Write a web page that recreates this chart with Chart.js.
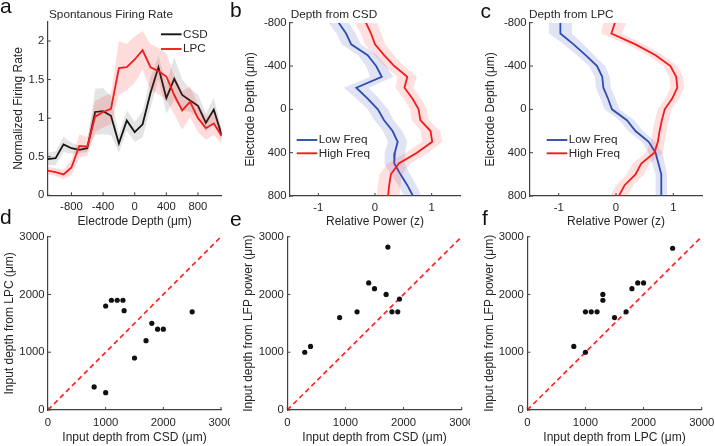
<!DOCTYPE html>
<html>
<head>
<meta charset="utf-8">
<script src="https://cdn.jsdelivr.net/npm/chart.js@4.4.1/dist/chart.umd.min.js"></script>
<style>
  body { margin: 0; background: #fff; }
  #fig { position: relative; width: 715px; height: 446px; overflow: hidden; font-family: "Liberation Sans", Arial, sans-serif; }
  #fig canvas { position: absolute; }
  .letter { position: absolute; font-size: 21px; line-height: 21px; color: #111; }
</style>
</head>
<body>
<div id="fig">
  <canvas id="ca"></canvas>
  <canvas id="cb"></canvas>
  <canvas id="cc"></canvas>
  <canvas id="cd"></canvas>
  <canvas id="ce"></canvas>
  <canvas id="cf"></canvas>
  <div class="letter" style="left:0px;top:-4.8px">a</div>
  <div class="letter" style="left:230px;top:-1.1px">b</div>
  <div class="letter" style="left:480.5px;top:-0.5px">c</div>
  <div class="letter" style="left:0px;top:206px">d</div>
  <div class="letter" style="left:230px;top:208px">e</div>
  <div class="letter" style="left:482px;top:207px">f</div>
</div>
<script>
// ---- panel a: spontaneous firing rate vs electrode depth
const depthA = [-1100, -1000, -900, -800, -700, -600, -500, -400, -300, -200, -100, 0,
                100, 200, 300, 400, 500, 600, 700, 800, 900, 1000, 1100];
const csdRate = [0.47, 0.48, 0.66, 0.61, 0.59, 0.61, 1.08, 1.09, 1.03, 0.67, 0.97, 0.82,
                 0.92, 1.33, 1.66, 1.26, 1.51, 1.30, 1.23, 1.16, 0.94, 1.11, 0.78];
const csdRateErr = [0.08, 0.09, 0.10, 0.07, 0.05, 0.05, 0.30, 0.30, 0.25, 0.12, 0.13, 0.13,
                    0.17, 0.20, 0.15, 0.20, 0.28, 0.20, 0.15, 0.15, 0.12, 0.15, 0.08];
const lpcRate = [0.32, 0.30, 0.27, 0.36, 0.64, 0.63, 1.02, 1.08, 1.12, 1.65, 1.66, 1.76,
                 1.88, 1.66, 1.61, 1.54, 1.30, 1.10, 1.21, 1.00, 0.87, 0.93, 0.77];
const lpcRateErr = [0.05, 0.05, 0.06, 0.10, 0.15, 0.12, 0.20, 0.20, 0.20, 0.35, 0.30, 0.30,
                    0.25, 0.30, 0.30, 0.30, 0.25, 0.25, 0.20, 0.18, 0.15, 0.15, 0.10];

// ---- panels b, c: relative power vs depth
const depthBC = [-800, -700, -600, -500, -400, -300, -200, -100, 0, 100, 200, 300, 400, 500, 600, 700, 800];
const csdLow = [-0.64, -0.51, -0.42, -0.13, 0.02, 0.12, -0.33, -0.13, 0.05, 0.16, 0.31, 0.40, 0.35, 0.34, 0.45, 0.57, 0.67];
const csdLowErr = [0.18, 0.17, 0.17, 0.17, 0.18, 0.20, 0.22, 0.20, 0.18, 0.17, 0.17, 0.17, 0.18, 0.18, 0.17, 0.16, 0.15];
const csdHigh = [-0.16, -0.07, 0.00, 0.16, 0.34, 0.57, 0.52, 0.66, 0.77, 0.80, 0.98, 1.01, 0.74, 0.42, 0.28, 0.25, 0.23];
const csdHighErr = [0.20, 0.18, 0.18, 0.17, 0.17, 0.17, 0.16, 0.15, 0.15, 0.15, 0.17, 0.18, 0.20, 0.20, 0.20, 0.20, 0.20];
const lpcLow = [-0.97, -0.97, -0.74, -0.53, -0.33, -0.24, -0.22, -0.14, -0.07, 0.19, 0.34, 0.57, 0.69, 0.74, 0.79, 0.79, 0.79];
const lpcLowErr = [0.20, 0.20, 0.17, 0.15, 0.14, 0.13, 0.13, 0.13, 0.13, 0.13, 0.13, 0.12, 0.12, 0.11, 0.10, 0.10, 0.10];
const lpcHigh = [-0.02, -0.08, 0.34, 0.69, 0.95, 1.05, 1.07, 0.98, 0.85, 0.80, 0.76, 0.73, 0.67, 0.44, 0.34, 0.15, 0.05];
const lpcHighErr = [0.20, 0.18, 0.15, 0.13, 0.12, 0.12, 0.12, 0.12, 0.12, 0.12, 0.12, 0.12, 0.15, 0.15, 0.15, 0.15, 0.15];

// ---- panels d, e, f: input depth scatter (um)
const csdDepthD = [800, 1000, 1000, 1100, 1200, 1300, 1320, 1500, 1700, 1800, 1900, 2000, 2500];
const lpcDepthD = [400, 300, 1800, 1900, 1900, 1900, 1720, 900, 1200, 1500, 1400, 1400, 1700];
const csdDepthE = [300, 400, 900, 1200, 1400, 1500, 1700, 1730, 1800, 1900, 1930];
const lfpDepthE = [1000, 1100, 1600, 1700, 2200, 2100, 2000, 2820, 1700, 1700, 1920];
const lpcDepthF = [800, 1000, 1000, 1100, 1200, 1300, 1300, 1500, 1700, 1800, 1900, 2000, 2500];
const lfpDepthF = [1100, 1000, 1700, 1700, 1700, 2000, 1900, 1600, 1700, 2100, 2200, 2200, 2800];
const unityLine = [0, 3000];

// ---- tick labels
const aXTicks = [-800, -400, 0, 400, 800];
const aYTicks = [0, 0.5, 1, 1.5, 2];
const powerTicks = [-1, 0, 1];
const depthTicks = [-800, -400, 0, 400, 800];
const scatterTicks = [0, 1000, 2000, 3000];

// ---- styling / layout
const FONT = '"Liberation Sans", Arial, Helvetica, sans-serif';
const TEXT = '#262626';
const AXIS = '#404040';
const RED = '#f21c1c';
const BLUE = '#2f4db0';
const BLACK = '#141414';
const TICK_LEN = 3;

// canvas box (x, y, w, h) and plot box (l, t, r, b) in page pixels
const panels = {
  a: { x: 0, y: 0, w: 230, h: 232, l: 47.7, t: 21.7, r: 221.7, b: 195.3 },
  b: { x: 230, y: 0, w: 240, h: 232, l: 290, t: 22.7, r: 460, b: 196 },
  c: { x: 470, y: 0, w: 245, h: 232, l: 530, t: 22.7, r: 702, b: 196 },
  d: { x: 0, y: 226, w: 230, h: 220, l: 48, t: 236.7, r: 221, b: 410 },
  e: { x: 230, y: 226, w: 240, h: 220, l: 287.3, t: 236.7, r: 461.7, b: 410 },
  f: { x: 470, y: 226, w: 245, h: 220, l: 527.3, t: 236.7, r: 701.7, b: 410 }
};

// inward ticks, left-aligned panel title and a simple line legend
const figExtras = {
  id: 'figExtras',
  afterDraw(chart, args, opts) {
    const ctx = chart.ctx;
    const area = chart.chartArea;
    ctx.save();
    ctx.strokeStyle = AXIS;
    ctx.lineWidth = 1;
    Object.values(chart.scales).forEach((s) => {
      s.ticks.forEach((t) => {
        const p = s.getPixelForValue(t.value);
        ctx.beginPath();
        if (s.isHorizontal()) {
          ctx.moveTo(p, area.bottom);
          ctx.lineTo(p, area.bottom - TICK_LEN);
        } else {
          ctx.moveTo(area.left, p);
          ctx.lineTo(area.left + TICK_LEN, p);
        }
        ctx.stroke();
      });
    });
    ctx.fillStyle = TEXT;
    if (opts.title) {
      ctx.font = '11.8px ' + FONT;
      ctx.textBaseline = 'alphabetic';
      ctx.textAlign = 'left';
      ctx.fillText(opts.title, opts.titleX, opts.titleY);
    }
    if (opts.legend) {
      ctx.font = '11.7px ' + FONT;
      ctx.textBaseline = 'middle';
      opts.legend.forEach((item, i) => {
        const y = opts.legendY + i * opts.legendDy;
        ctx.strokeStyle = item.color;
        ctx.lineWidth = 1.9;
        ctx.beginPath();
        ctx.moveTo(opts.legendX, y);
        ctx.lineTo(opts.legendX + 20.6, y);
        ctx.stroke();
        ctx.fillStyle = TEXT;
        ctx.fillText(item.text, opts.legendX + 22, y);
      });
    }
    ctx.restore();
  }
};

function scaleCfg(o) {
  const left = o.pos === 'left';
  return {
    type: 'linear',
    position: o.pos,
    min: o.min,
    max: o.max,
    reverse: !!o.reverse,
    grid: { display: false, drawTicks: false },
    border: { display: true, color: AXIS, width: 1.2 },
    ticks: {
      color: TEXT,
      font: { family: FONT, size: 11.3 },
      padding: left ? 3.5 : o.tickPad,
      maxRotation: 0,
      autoSkip: false,
      callback: (v) => String(v)
    },
    afterBuildTicks: (s) => { s.ticks = o.ticks.map((v) => ({ value: v })); },
    title: {
      display: true,
      text: o.title,
      color: TEXT,
      font: { family: FONT, size: 12 },
      padding: left ? { top: o.titlePad, bottom: 0 } : { top: 0, bottom: o.titlePad }
    },
    afterFit: (s) => {
      if (left) {
        s.width = o.size;
        s.paddingTop = 0;
        s.paddingBottom = 0;
      } else {
        s.height = o.size;
        s.paddingLeft = 0;
        s.paddingRight = 0;
      }
    }
  };
}

function setupCanvas(id, p) {
  const cv = document.getElementById(id);
  cv.width = p.w;
  cv.height = p.h;
  cv.style.left = p.x + 'px';
  cv.style.top = p.y + 'px';
  cv.style.width = p.w + 'px';
  cv.style.height = p.h + 'px';
  return cv;
}

function baseOptions(p, x, y, extras) {
  return {
    responsive: false,
    animation: false,
    devicePixelRatio: 1,
    layout: { padding: { left: 0, top: p.t - p.y, right: p.x + p.w - p.r, bottom: 0 } },
    scales: {
      x: scaleCfg(Object.assign({ pos: 'bottom', size: p.y + p.h - p.b }, x)),
      y: scaleCfg(Object.assign({ pos: 'left', size: p.l - p.x }, y))
    },
    elements: { point: { radius: 0 }, line: { tension: 0 } },
    plugins: { legend: { display: false }, tooltip: { enabled: false }, figExtras: extras }
  };
}

const pts = (xs, ys) => xs.map((x, i) => ({ x: x, y: ys[i] }));
const shift = (vals, err, sign) => vals.map((v, i) => v + sign * err[i]);

// mean line with a shaded band; vertical=true means depth runs along y
function withBand(axisVals, mean, err, color, shade, baseOrder, vertical) {
  const mk = (vals) => vertical ? pts(vals, axisVals) : pts(axisVals, vals);
  return [
    { data: mk(shift(mean, err, -1)), borderWidth: 0, pointRadius: 0, fill: false, order: baseOrder + 2 },
    { data: mk(shift(mean, err, 1)), borderWidth: 0, pointRadius: 0, fill: '-1', backgroundColor: shade, order: baseOrder + 1 },
    { data: mk(mean), borderColor: color, borderWidth: 1.8, pointRadius: 0, fill: false, order: baseOrder }
  ];
}

// panel a
const pa = panels.a;
new Chart(setupCanvas('ca', pa), {
  type: 'line',
  data: {
    datasets: [
      ...withBand(depthA, csdRate, csdRateErr, BLACK, 'rgba(120,120,120,0.2)', 4, false),
      ...withBand(depthA, lpcRate, lpcRateErr, RED, 'rgba(255,50,50,0.17)', 1, false)
    ]
  },
  options: baseOptions(pa,
    { min: -1100, max: 1100, ticks: aXTicks, title: 'Electrode Depth (μm)', tickPad: 5.2, titlePad: 3.5 },
    { min: 0, max: 2.25, ticks: aYTicks, title: 'Normalized Firing Rate', titlePad: 11.7 },
    { title: 'Spontanous Firing Rate', titleX: 49, titleY: 17.5,
      legendX: 161, legendY: 34.3, legendDy: 14.7,
      legend: [{ text: 'CSD', color: BLACK }, { text: 'LPC', color: RED }] }),
  plugins: [figExtras]
});

// panels b, c
function profilePanel(id, p, low, lowErr, high, highErr, title, titleX, legendX) {
  const opts = baseOptions(p,
    { min: -1.5, max: 1.5, ticks: powerTicks, title: 'Relative Power (z)', tickPad: 5, titlePad: 3.5 },
    { min: -800, max: 800, reverse: true, ticks: depthTicks, title: 'Electrode Depth (μm)', titlePad: 13.7 },
    { title: title, titleX: titleX, titleY: 17.5,
      legendX: legendX, legendY: 140, legendDy: 13.3,
      legend: [{ text: 'Low Freq', color: BLUE }, { text: 'High Freq', color: RED }] });
  opts.indexAxis = 'y';
  new Chart(setupCanvas(id, p), {
    type: 'line',
    data: {
      datasets: [
        ...withBand(depthBC, low, lowErr, BLUE, 'rgba(70,90,190,0.17)', 4, true),
        ...withBand(depthBC, high, highErr, RED, 'rgba(255,50,50,0.15)', 1, true)
      ]
    },
    options: opts,
    plugins: [figExtras]
  });
}
profilePanel('cb', panels.b, csdLow, csdLowErr, csdHigh, csdHighErr, 'Depth from CSD', 60.7, 66.7);
profilePanel('cc', panels.c, lpcLow, lpcLowErr, lpcHigh, lpcHighErr, 'Depth from LPC', 59, 76.7);

// panels d, e, f
function scatterPanel(id, p, xs, ys, xTitle, yTitle, yTitlePad) {
  new Chart(setupCanvas(id, p), {
    type: 'scatter',
    data: {
      datasets: [
        { data: pts(xs, ys), pointRadius: 2.6, pointBackgroundColor: '#111', pointBorderWidth: 0, order: 1 },
        { data: pts(unityLine, unityLine), showLine: true, borderColor: '#ff2424', borderWidth: 1.7,
          borderDash: [5, 3.5], pointRadius: 0, order: 2 }
      ]
    },
    options: baseOptions(p,
      { min: 0, max: 3000, ticks: scatterTicks, title: xTitle, tickPad: 6.2, titlePad: 0.8 },
      { min: 0, max: 3000, ticks: scatterTicks, title: yTitle, titlePad: yTitlePad },
      {}),
    plugins: [figExtras]
  });
}
scatterPanel('cd', panels.d, csdDepthD, lpcDepthD, 'Input depth from CSD (μm)', 'Input depth from LPC (μm)', 2.7);
scatterPanel('ce', panels.e, csdDepthE, lfpDepthE, 'Input depth from CSD (μm)', 'Input depth from LFP power (μm)', 11.7);
scatterPanel('cf', panels.f, lpcDepthF, lfpDepthF, 'Input depth from LPC (μm)', 'Input depth from LFP power (μm)', 12.7);
</script>
</body>
</html>
